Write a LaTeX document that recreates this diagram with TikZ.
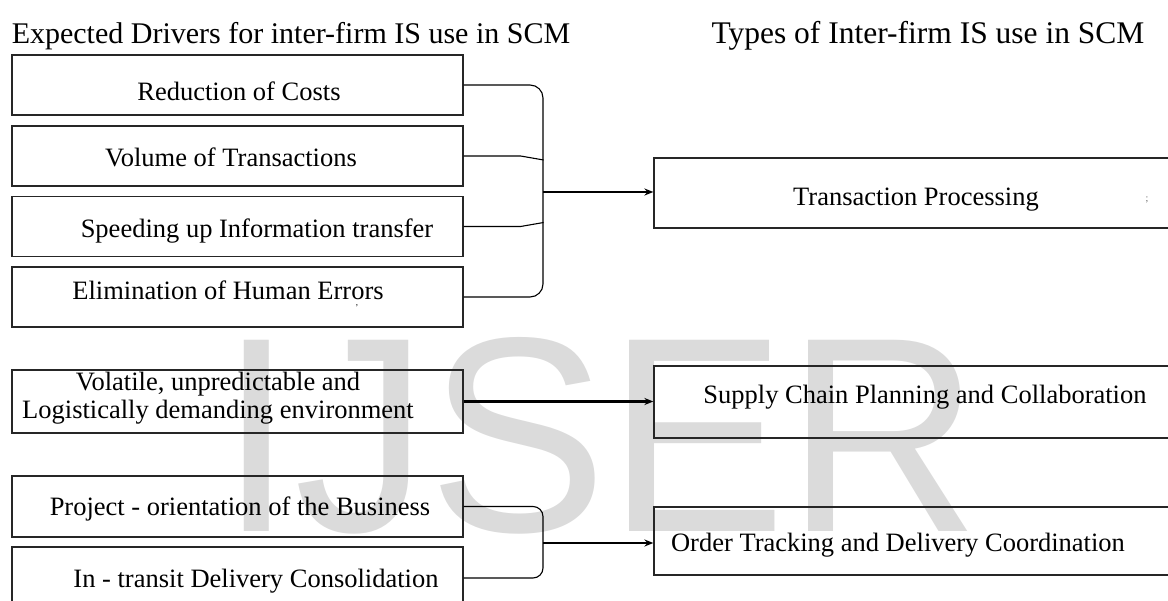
\documentclass[tikz,border=0pt]{standalone}
\usepackage{fontspec}
\setmainfont{Liberation Serif}
\newfontfamily\markfont{Liberation Sans}
\usetikzlibrary{arrows.meta}
\usetikzlibrary{positioning}

\begin{document}
\begin{tikzpicture}[x=1pt, y=-1pt,
        driver/.style={draw=black!85, line width=1.2pt, minimum width=451pt, minimum height=60pt, inner sep=0pt},
        usetype/.style={draw=black!85, line width=1.2pt, minimum width=530pt, minimum height=70pt, inner sep=0pt},
        boxtext/.style={font=\fontsize{26.5}{28}\selectfont, anchor=base, inner sep=0pt, align=center},
        head/.style={font=\fontsize{31.5}{34}\selectfont, anchor=base, inner sep=0pt},
        link/.style={line width=1.1pt},
        flow/.style={line width=2.6pt, -{Stealth[length=9pt, width=7pt]}}]
        \useasboundingbox (0,0) rectangle (1168,601);

        % watermark behind the boxes
        \node[font=\markfont\fontsize{278}{280}\selectfont, text=black!14, anchor=base, inner sep=0pt] (wm) at (600,532) {\scalebox{0.965}[1]{IJSER}};

        % column titles
        \node[head, font=\fontsize{30}{32}\selectfont] (drv-title) at (291,44) {Expected Drivers for inter-firm IS use in SCM};
        \node[head] (use-title) at (928,44) {Types of Inter-firm IS use in SCM};

        % drivers
        \node[driver] (cost) at (237.5,85) {};
        \node[driver] (volume) at (237.5,156) {};
        \node[driver] (speed) at (237.5,226.5) {};
        \node[driver] (errors) at (237.5,297) {};
        \node[driver, minimum height=63pt] (volatile) at (237.5,401.5) {};
        \node[driver, minimum height=61pt] (project) at (237.5,506.5) {};
        \node[driver, minimum height=62pt] (transit) at (237.5,578) {};

        \node[boxtext] (cost-t) at (239,101) {Reduction of Costs};
        \node[boxtext] (volume-t) at (231,167) {Volume of Transactions};
        \node[boxtext] (speed-t) at (257,238) {Speeding up Information transfer};
        \node[boxtext] (errors-t) at (228,300) {Elimination of Human Errors};
        \node[font=\fontsize{9}{9}\selectfont, inner sep=0pt] (errors-m) at (357,306) {,};
        \node[boxtext, anchor=north] (volatile-t) at (218,372) {Volatile, unpredictable and\\Logistically demanding environment};
        \node[boxtext] (project-t) at (240,515) {Project - orientation of the Business};
        \node[boxtext] (transit-t) at (256,587) {In - transit Delivery Consolidation};

        % types of use
        \node[usetype] (tp) at (919,193) {};
        \node[usetype, minimum height=72pt] (sc) at (919,402) {};
        \node[usetype, minimum height=68pt] (ot) at (919,541) {};

        \node[boxtext] (tp-t) at (916,206) {Transaction Processing};
        \node[font=\fontsize{10}{10}\selectfont, text=black!60, inner sep=0pt] (tp-m) at (1147,200) {;};
        \node[boxtext] (sc-t) at (925,404) {Supply Chain Planning and Collaboration};
        \node[boxtext] (ot-t) at (898,551) {Order Tracking and Delivery Coordination};

        % brackets joining the drivers
        \coordinate (j1) at (543,192);
        \coordinate (j3) at (543,543);
        \draw[link, rounded corners=13pt] (cost.east) -| (j1) |- (errors.east);
        \draw[link] (volume.east) -- ++(57,0) -- ++(23,4);
        \draw[link] (speed.east) -- ++(57,0) -- ++(23,-4);
        \draw[link, rounded corners=10pt] (project.east) -| (j3) |- (transit.east);

        \draw[flow] (j1) -- (tp.west |- j1);
        \draw[flow] (volatile.east) -- (sc.west |- volatile.east);
        \draw[flow] (j3) -- (ot.west |- j3);
\end{tikzpicture}
\end{document}
